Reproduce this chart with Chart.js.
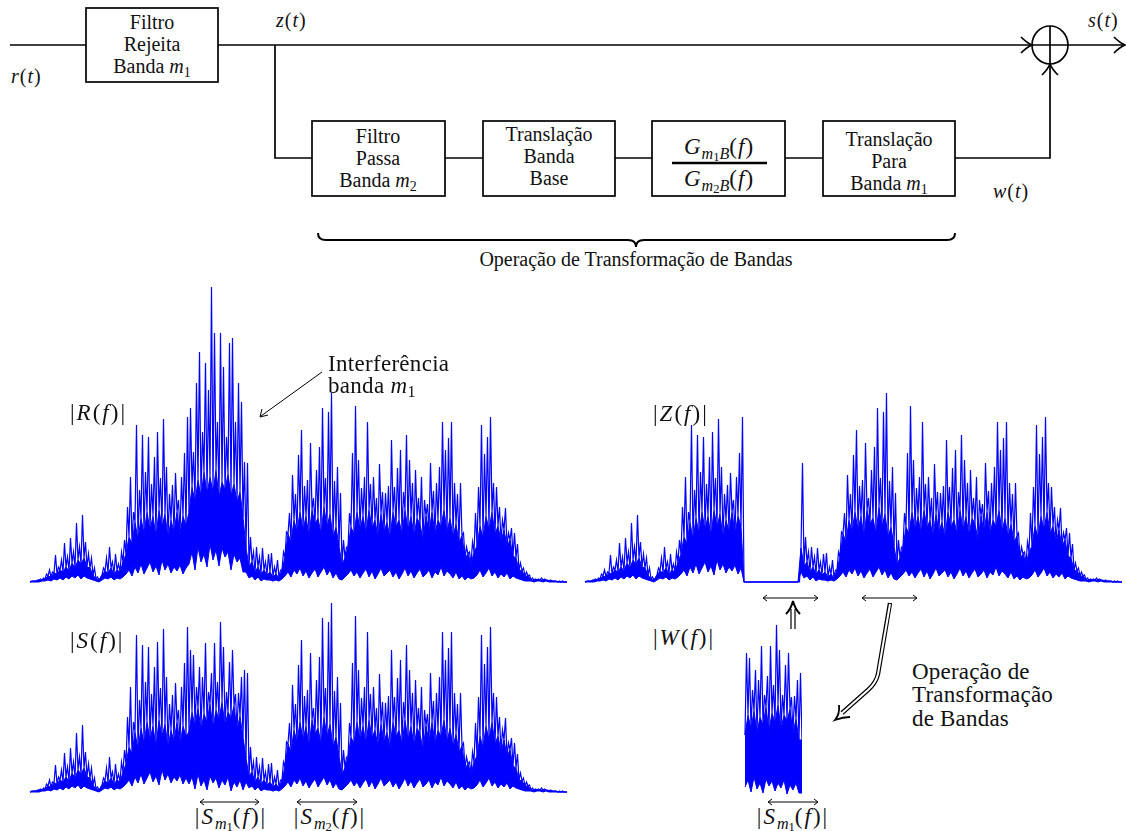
<!DOCTYPE html>
<html><head><meta charset="utf-8">
<script src="https://cdn.jsdelivr.net/npm/chart.js@4.4.0/dist/chart.umd.min.js"></script>
<style>
html,body{margin:0;padding:0;background:#fff;}
#stage{position:relative;width:1126px;height:831px;overflow:hidden;font-family:"Liberation Serif","Times New Roman",serif;color:#111;}
canvas{position:absolute;}
svg{position:absolute;left:0;top:0;}
.t{position:absolute;white-space:nowrap;line-height:1;}
.c{transform:translate(-50%,-50%);text-align:center;}
.l{transform:translate(0,-50%);}
.m{letter-spacing:1px;}
.mm{letter-spacing:2px;}
i{font-style:italic;}
sub{font-size:70%;vertical-align:-0.3em;line-height:0;letter-spacing:0;}
sub sub{font-size:78%;vertical-align:-0.2em;}
</style></head>
<body><div id="stage">
<svg width="1126" height="831" viewBox="0 0 1126 831" fill="none" stroke="#000">
  <g stroke-width="1.7">
    <line x1="10" y1="45" x2="86" y2="45"/>
    <rect x="86" y="8" width="132" height="74"/>
    <line x1="218" y1="45" x2="1032" y2="45"/>
    <polyline points="275,45 275,158 312,158"/>
    <rect x="312" y="121" width="133" height="75"/>
    <line x1="445" y1="158" x2="483" y2="158"/>
    <rect x="483" y="121" width="132" height="75"/>
    <line x1="615" y1="158" x2="652" y2="158"/>
    <rect x="652" y="121" width="133" height="75"/>
    <line x1="785" y1="158" x2="823" y2="158"/>
    <rect x="823" y="121" width="132" height="75"/>
    <polyline points="955,158 1050,158 1050,64"/>
    <ellipse cx="1050" cy="45" rx="18" ry="19"/>
    <line x1="1032" y1="45" x2="1068" y2="45"/>
    <line x1="1050" y1="26" x2="1050" y2="64"/>
    <line x1="1068" y1="45" x2="1125" y2="45"/>
    <path d="M1021,37 Q1027,43 1032,45 Q1027,47 1021,53"/>
    <path d="M1114,37 Q1120,43 1125,45 Q1120,47 1114,53"/>
    <path d="M1042,75 Q1048,69 1050,64 Q1052,69 1058,75"/>
  </g>
  <line x1="672" y1="163" x2="767" y2="163" stroke-width="2.6"/>
  <path d="M318,233 Q318,240 326,240 L628,240 Q636,240 636,247 Q636,240 644,240 L947,240 Q955,240 955,233" stroke-width="2"/>
  <g stroke-width="1">
    <line x1="322" y1="372" x2="261" y2="416"/>
    <path d="M262,409 L260,417 L268,415"/>
    <line x1="200" y1="802" x2="259" y2="802"/><path d="M204,799 L200,802 L204,805 M255,799 L259,802 L255,805"/>
    <line x1="297" y1="802" x2="357" y2="802"/><path d="M301,799 L297,802 L301,805 M353,799 L357,802 L353,805"/>
    <line x1="768" y1="802" x2="818" y2="802"/><path d="M772,799 L768,802 L772,805 M814,799 L818,802 L814,805"/>
    <line x1="763" y1="598" x2="818" y2="598"/><path d="M767,595 L763,598 L767,601 M814,595 L818,598 L814,601"/>
    <line x1="862" y1="598" x2="917" y2="598"/><path d="M866,595 L862,598 L866,601 M913,595 L917,598 L913,601"/>
  </g>
  <g stroke-width="1.2">
    <line x1="791" y1="629" x2="791" y2="609"/>
    <line x1="795" y1="629" x2="795" y2="609"/>
  </g>
  <path d="M786,614 Q791,609 793,601 Q795,609 800,614" stroke-width="2"/>
  <path d="M890,603 L878,674 Q876,683 868,690 L842,713" stroke-width="4.4"/>
  <path d="M890,604 L878,674 Q876,683 868,690 L841,714" stroke="#fff" stroke-width="2"/>
  <path d="M839,705 Q840,714 835,720 Q843,717 850,717" stroke-width="1.8"/>
</svg>

<canvas id="cR" width="540" height="305" style="left:28px;top:282px"></canvas>
<canvas id="cZ" width="540" height="205" style="left:583px;top:382px"></canvas>
<canvas id="cS" width="540" height="205" style="left:28px;top:592px"></canvas>
<canvas id="cW" width="59" height="180" style="left:743px;top:620px"></canvas>

<div class="t l m" style="left:11px;top:76px;font-size:20px"><i>r</i>(<i>t</i>)</div>
<div class="t l m" style="left:276px;top:20px;font-size:20px"><i>z</i>(<i>t</i>)</div>
<div class="t l m" style="left:1088px;top:20px;font-size:20px"><i>s</i>(<i>t</i>)</div>
<div class="t l m" style="left:993px;top:191px;font-size:20px"><i>w</i>(<i>t</i>)</div>

<div class="t c" style="left:152px;top:22px;font-size:20px">Filtro</div>
<div class="t c" style="left:152px;top:44px;font-size:20px">Rejeita</div>
<div class="t c" style="left:152px;top:66px;font-size:20px">Banda <i>m</i><sub>1</sub></div>

<div class="t c" style="left:378px;top:136px;font-size:20px">Filtro</div>
<div class="t c" style="left:378px;top:158px;font-size:20px">Passa</div>
<div class="t c" style="left:378px;top:180px;font-size:20px">Banda <i>m</i><sub>2</sub></div>

<div class="t c" style="left:549px;top:134px;font-size:20px">Translação</div>
<div class="t c" style="left:549px;top:156px;font-size:20px">Banda</div>
<div class="t c" style="left:549px;top:178px;font-size:20px">Base</div>

<div class="t c m" style="left:719px;top:146px;font-size:23px"><i>G</i><sub><i>m</i><sub>1</sub><i>B</i></sub>(<i>f</i>)</div>
<div class="t c m" style="left:719px;top:178px;font-size:23px"><i>G</i><sub><i>m</i><sub>2</sub><i>B</i></sub>(<i>f</i>)</div>

<div class="t c" style="left:889px;top:139px;font-size:20px">Translação</div>
<div class="t c" style="left:889px;top:161px;font-size:20px">Para</div>
<div class="t c" style="left:889px;top:183px;font-size:20px">Banda <i>m</i><sub>1</sub></div>

<div class="t c" style="left:636px;top:259px;font-size:20px">Operação de Transformação de Bandas</div>

<div class="t l" style="left:328px;top:363px;font-size:23px;letter-spacing:.3px">Interferência</div>
<div class="t l" style="left:328px;top:385px;font-size:23px;letter-spacing:.3px">banda <i>m</i><sub>1</sub></div>

<div class="t l mm" style="left:70px;top:412px;font-size:23px">|<i>R</i>(<i>f</i>)|</div>
<div class="t l mm" style="left:653px;top:413px;font-size:23px">|<i>Z</i>(<i>f</i>)|</div>
<div class="t l mm" style="left:70px;top:640px;font-size:23px">|<i>S</i>(<i>f</i>)|</div>
<div class="t l mm" style="left:653px;top:637px;font-size:23px">|<i>W</i>(<i>f</i>)|</div>

<div class="t l" style="left:912px;top:671px;font-size:23px;letter-spacing:.2px">Operação de</div>
<div class="t l" style="left:912px;top:694px;font-size:23px;letter-spacing:.2px">Transformação</div>
<div class="t l" style="left:912px;top:718px;font-size:23px;letter-spacing:.2px">de Bandas</div>

<div class="t c mm" style="left:231px;top:816px;font-size:23px">|<i>S</i><sub><i>m</i><sub>1</sub></sub>(<i>f</i>)|</div>
<div class="t c mm" style="left:330px;top:816px;font-size:23px">|<i>S</i><sub><i>m</i><sub>2</sub></sub>(<i>f</i>)|</div>
<div class="t c mm" style="left:793px;top:816px;font-size:23px">|<i>S</i><sub><i>m</i><sub>1</sub></sub>(<i>f</i>)|</div>
</div>

<script>
// frequency bin spacing (plot units) and first bin of band m1
const binStep = 3;
const m1Start = 53;

// |Z(f)| (band m1 removed): spike tops per bin
const zHi = [1,1,2,3,4,8,12,10,27,15,
 22,39,25,44,30,59,35,67,40,28,
 24,14,5,4,14,24,35,20,28,18,
 30,42,75,105,70,157,92,147,110,145,
 98,125,150,104,163,115,88,97,109,82,
 105,129,165,0,0,0,0,0,0,0,
 0,0,0,0,0,0,0,0,0,0,
 0,0,119,45,30,35,25,34,20,28,
 29,15,22,12,30,50,69,107,88,127,
 152,96,102,139,84,112,135,174,104,170,
 189,101,115,89,42,35,69,129,176,122,
 94,105,160,98,105,84,118,90,89,96,
 142,95,114,132,90,147,122,99,112,84,
 105,82,78,119,91,99,115,160,132,144,
 160,99,88,99,49,35,30,40,69,95,
 157,128,145,165,99,95,75,62,74,49,
 54,49,38,19,14,10,7,4,3,3,
 4,3,2,2,1,1,1,1,0];
// |Z(f)|: top of the dense part per bin
const zLo = [0,1,1,2,2,3,6,5,9,8,
 12,10,15,11,19,14,22,18,24,15,
 14,7,3,2,7,11,9,14,8,12,
 10,20,28,45,38,60,42,64,48,70,
 52,66,45,72,55,68,44,62,50,70,
 48,66,56,0,0,0,0,0,0,0,
 0,0,0,0,0,0,0,0,0,0,
 0,0,34,16,20,10,15,8,12,7,
 10,5,8,4,12,25,48,40,62,50,
 70,52,66,45,72,58,64,48,75,55,
 68,45,55,36,18,24,35,55,48,70,
 52,66,48,72,54,62,45,68,50,60,
 44,70,55,62,48,72,52,66,46,64,
 58,42,66,50,70,48,62,55,72,50,
 64,45,58,40,46,24,28,18,30,36,
 56,44,66,52,70,48,56,40,52,36,
 42,26,24,12,11,6,6,2,2,2,
 2,2,2,1,1,1,0,0,0];
// |Z(f)|: ragged bottom edge per bin
const zFloor = [0,0,0,0,1,1,2,1,3,2,
 4,2,5,3,6,4,7,3,6,4,
 3,2,1,0,2,4,3,5,2,4,
 3,5,8,12,6,15,9,18,8,14,
 20,10,16,7,22,12,18,9,15,11,
 17,8,14,0,0,0,0,0,0,0,
 0,0,0,0,0,0,0,0,0,0,
 0,0,10,4,6,2,5,1,3,2,
 2,1,2,1,3,6,10,5,12,8,
 14,6,11,4,9,13,5,10,15,7,
 12,4,9,3,2,5,8,12,6,10,
 4,9,13,5,11,3,8,14,6,9,
 12,5,10,3,8,14,6,11,4,9,
 13,5,8,12,4,10,7,15,6,11,
 8,4,10,3,6,2,5,3,4,7,
 12,5,9,14,6,10,4,8,5,9,
 3,6,4,3,2,1,1,1,0,1,
 1,0,1,0,0,0,0,0,0];

// band m1 content of |R(f)| (interference): spike tops / dense level / bottom edge
const rM1Hi = [174,130,199,230,150,219,192,295,249,160,249,215,145,239,244,160,199,180,120];
const rM1Lo = [70,95,80,102,85,110,88,105,90,112,84,100,92,108,86,98,80,90,65];
const rM1Floor = [18,30,12,35,20,28,15,38,22,32,16,34,25,30,12,28,20,24,10];

// band m1 content of |S(f)| = |W(f)| (transformed band m2): spike tops / dense level / bottom edge
const sM1Hi = [142,137,105,125,115,149,100,119,149,110,170,145,100,130,142,98,99,115,122];
const sM1Lo = [60,80,66,84,62,78,70,88,64,82,72,90,66,80,74,86,62,76,55];
const sM1Floor = [8,15,3,18,6,12,2,16,9,14,4,12,7,15,1,10,5,12,2];

function withBand(base, band){
  const a = base.slice();
  band.forEach((v,k)=>{ a[m1Start+k] = v; });
  return a;
}
function spikePoints(hi, lo, firstBin){
  const pts = [];
  for(let k=0;k<hi.length;k++){
    const f = (firstBin+k)*binStep;
    pts.push({x:f, y:lo[k]});
    pts.push({x:f+binStep/2, y:hi[k]});
  }
  pts.push({x:(firstBin+hi.length)*binStep, y:lo[lo.length-1]});
  return pts;
}
function edgePoints(vals, firstBin){
  const pts = [];
  for(let k=0;k<vals.length;k++){
    pts.push({x:(firstBin+k)*binStep, y:vals[k]});
  }
  pts.push({x:(firstBin+vals.length)*binStep, y:vals[vals.length-1]});
  return pts;
}
function makeChart(id, hi, lo, floor, firstBin, xmin, xmax, ymin, ymax){
  new Chart(document.getElementById(id), {
    type:'scatter',
    data:{datasets:[
      {data:spikePoints(hi, lo, firstBin), showLine:true, borderColor:'#0000ff',
       borderWidth:1.2, pointRadius:0, tension:0, fill:false},
      {data:edgePoints(lo, firstBin), showLine:true, borderColor:'#0000ff', borderWidth:1,
       backgroundColor:'#0000ff', pointRadius:0, tension:0, fill:'+1'},
      {data:edgePoints(floor, firstBin), showLine:true, borderColor:'#0000ff', borderWidth:1,
       pointRadius:0, tension:0, fill:false}
    ]},
    options:{responsive:false, animation:false, devicePixelRatio:1, events:[],
      layout:{padding:0},
      plugins:{legend:{display:false}, tooltip:{enabled:false}},
      scales:{x:{type:'linear', display:false, min:xmin, max:xmax},
              y:{type:'linear', display:false, min:ymin, max:ymax}}}
  });
}
makeChart('cR', withBand(zHi,rM1Hi), withBand(zLo,rM1Lo), withBand(zFloor,rM1Floor), 0, -2, 538, -5, 300);
makeChart('cZ', zHi, zLo, zFloor, 0, -2, 538, -5, 200);
makeChart('cS', withBand(zHi,sM1Hi), withBand(zLo,sM1Lo), withBand(zFloor,sM1Floor), 0, -2, 538, -5, 200);
makeChart('cW', sM1Hi, sM1Lo, sM1Floor, m1Start, 157, 216, -5, 175);
</script>
</body></html>
